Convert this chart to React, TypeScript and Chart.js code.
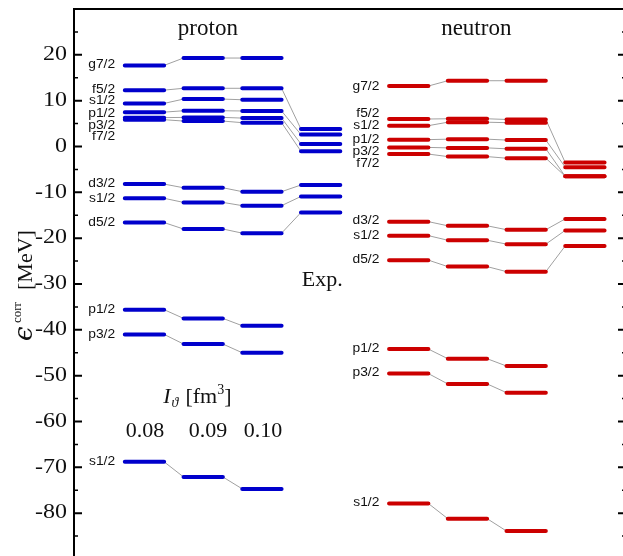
import React, { useEffect, useRef } from "react";
import { Chart, registerables } from "chart.js";

Chart.register(...registerables);

// ---------- data ----------
const stateNames = ["g7/2", "f5/2", "s1/2", "p1/2", "p3/2", "f7/2", "d3/2", "s1/2", "d5/2", "p1/2", "p3/2", "s1/2"];
const columnLabels = ["0.08", "0.09", "0.10"];

const proton008 = [17.7, 12.3, 9.4, 7.5, 6.3, 5.85, -8.2, -11.3, -16.6, -35.6, -41.0, -68.8];
const proton009 = [19.3, 12.7, 10.35, 7.8, 6.35, 5.55, -9.0, -12.2, -18.0, -37.5, -43.1, -72.1];
const proton010 = [19.3, 12.7, 10.2, 7.75, 6.2, 5.2, -9.85, -12.9, -18.9, -39.1, -45.0, -74.7];
const protonExp: (number | null)[] = [null, 3.8, null, 2.6, 0.55, -1.05, -8.4, -10.9, -14.4, null, null, null];
const protonLabelE = [17.8, 12.5, 9.9, 7.1, 4.65, 2.1, -8.1, -11.3, -16.6, -35.6, -41.0, -68.8];

const neutron008 = [13.2, 6.0, 4.55, 1.5, -0.2, -1.65, -16.4, -19.45, -24.8, -44.2, -49.55, -77.9];
const neutron009 = [14.35, 6.05, 5.3, 1.6, -0.3, -2.2, -17.3, -20.45, -26.2, -46.3, -51.8, -81.2];
const neutron010 = [14.35, 5.9, 5.2, 1.4, -0.5, -2.55, -18.15, -21.3, -27.3, -47.9, -53.7, -83.9];
const neutronExp: (number | null)[] = [null, -3.5, null, -4.5, -6.5, -6.5, -15.8, -18.3, -21.7, null, null, null];
const neutronLabelE = [13.1, 7.2, 4.45, 1.55, -1.1, -3.8, -16.2, -19.4, -24.6, -44.2, -49.4, -77.8];

const yTickValues = [20, 10, 0, -10, -20, -30, -40, -50, -60, -70, -80];

// ---------- layout constants ----------
const COLS_P = [1, 2, 3, 4];
const COLS_N = [5.5, 6.5, 7.5, 8.5];
const HW = 0.335;
const BLUE = "#0000cc";
const RED = "#cc0000";
const GREY = "#a0a0a0";
const SERIF = '"Liberation Serif", "Times New Roman", serif';
const SANS = '"Liberation Sans", Arial, sans-serif';

function buildDatasets(cols: number[], series: (number | null)[][], color: string) {
  const out: any[] = [];
  for (let i = 0; i < stateNames.length; i++) {
    const levels: any[] = [];
    const conns: any[] = [];
    for (let j = 0; j < cols.length; j++) {
      const v = series[j][i];
      if (v == null) continue;
      levels.push({ x: cols[j] - HW, y: v }, { x: cols[j] + HW, y: v }, { x: cols[j] + 0.5, y: null });
      if (j + 1 < cols.length) {
        const w = series[j + 1][i];
        if (w != null) {
          conns.push({ x: cols[j] + HW, y: v }, { x: cols[j + 1] - HW, y: w }, { x: cols[j] + 0.5, y: null });
        }
      }
    }
    out.push({
      data: conns,
      borderColor: GREY,
      borderWidth: 1,
      pointRadius: 0,
      spanGaps: false,
      order: 2,
    });
    out.push({
      data: levels,
      borderColor: color,
      borderWidth: 4,
      borderCapStyle: "round",
      pointRadius: 0,
      spanGaps: false,
      order: 1,
    });
  }
  return out;
}

function txt(ctx: CanvasRenderingContext2D, s: string, x: number, y: number, font: string, align: CanvasTextAlign, sx = 1, baseline: CanvasTextBaseline = "alphabetic", color = "#111") {
  ctx.save();
  ctx.translate(x, y);
  ctx.scale(sx, 1);
  ctx.font = font;
  ctx.textAlign = align;
  ctx.textBaseline = baseline;
  ctx.fillStyle = color;
  ctx.fillText(s, 0, 0);
  ctx.restore();
}

const decorPlugin = {
  id: "decor",
  afterDatasetsDraw(chart: any) {
    const ctx: CanvasRenderingContext2D = chart.ctx;
    const { left, right, top, bottom } = chart.chartArea;
    const xs = chart.scales.x;
    const ys = chart.scales.y;
    ctx.save();
    // frame
    ctx.strokeStyle = "#000";
    ctx.lineWidth = 2;
    ctx.beginPath();
    ctx.moveTo(left, bottom);
    ctx.lineTo(left, top);
    ctx.lineTo(right, top);
    ctx.lineTo(right, bottom);
    ctx.stroke();
    // ticks
    for (let v = -85; v <= 25; v += 5) {
      const y = ys.getPixelForValue(v);
      const major = v % 10 === 0;
      const len = major ? 8 : 4;
      ctx.lineWidth = major ? 2 : 1.5;
      ctx.beginPath();
      ctx.moveTo(left, y);
      ctx.lineTo(left + len, y);
      ctx.moveTo(right, y);
      ctx.lineTo(right - len, y);
      ctx.stroke();
    }
    // tick labels
    for (const v of yTickValues) {
      txt(ctx, String(v), left - 7, ys.getPixelForValue(v), `20px ${SERIF}`, "right", 1.2, "middle");
    }
    // state labels
    for (let i = 0; i < stateNames.length; i++) {
      txt(ctx, stateNames[i], xs.getPixelForValue(COLS_P[0] - 0.5), ys.getPixelForValue(protonLabelE[i]), `12px ${SANS}`, "right", 1.15, "middle");
      txt(ctx, stateNames[i], xs.getPixelForValue(COLS_N[0] - 0.5), ys.getPixelForValue(neutronLabelE[i]), `12px ${SANS}`, "right", 1.15, "middle");
    }
    // titles
    txt(ctx, "proton", xs.getPixelForValue(2.08), ys.getPixelForValue(24.3), `23px ${SERIF}`, "center");
    txt(ctx, "neutron", xs.getPixelForValue(6.65), ys.getPixelForValue(24.3), `23px ${SERIF}`, "center");
    txt(ctx, "Exp.", xs.getPixelForValue(3.68), ys.getPixelForValue(-30.4), `22px ${SERIF}`, "left");
    // I_theta [fm^3]
    {
      let x = xs.getPixelForValue(1.32);
      const y = ys.getPixelForValue(-55.9);
      ctx.font = `italic 22px ${SERIF}`;
      ctx.fillStyle = "#111";
      ctx.textAlign = "left";
      ctx.textBaseline = "alphabetic";
      ctx.fillText("I", x, y);
      x += ctx.measureText("I").width + 1;
      ctx.font = `italic 14px ${SERIF}`;
      ctx.fillText("\u03D1", x, y + 4);
      x += ctx.measureText("\u03D1").width + 7;
      ctx.font = `22px ${SERIF}`;
      ctx.fillText("[fm", x, y);
      x += ctx.measureText("[fm").width;
      ctx.font = `14px ${SERIF}`;
      ctx.fillText("3", x, y - 9);
      x += ctx.measureText("3").width;
      ctx.font = `22px ${SERIF}`;
      ctx.fillText("]", x, y);
    }
    const labX = [1.01, 2.08, 3.02];
    for (let j = 0; j < 3; j++) {
      txt(ctx, columnLabels[j], xs.getPixelForValue(labX[j]), ys.getPixelForValue(-63.3), `22px ${SERIF}`, "center");
    }
    // y title
    {
      const cx = 32;
      const cy = (top + bottom) / 2 + 1;
      ctx.save();
      ctx.translate(cx, cy);
      ctx.rotate(-Math.PI / 2);
      ctx.fillStyle = "#111";
      ctx.textAlign = "left";
      ctx.textBaseline = "alphabetic";
      ctx.font = `italic 26px "DejaVu Serif", ${SERIF}`;
      ctx.fillText("\u03F5", -56, 0);
      ctx.font = `13px ${SERIF}`;
      ctx.fillText("corr", -38, -11);
      ctx.font = `22px ${SERIF}`;
      ctx.fillText("[MeV]", -5, 0);
      ctx.restore();
    }
    ctx.restore();
  },
};

export default function App() {
  const ref = useRef<HTMLCanvasElement | null>(null);
  useEffect(() => {
    if (!ref.current) return;
    const datasets = [
      ...buildDatasets(COLS_P, [proton008, proton009, proton010, protonExp], BLUE),
      ...buildDatasets(COLS_N, [neutron008, neutron009, neutron010, neutronExp], RED),
    ];
    const chart = new Chart(ref.current, {
      type: "line",
      data: { datasets },
      options: {
        animation: false,
        responsive: false,
        devicePixelRatio: 1,
        layout: { padding: { left: 74, top: 9, right: 14, bottom: 11 } },
        plugins: { legend: { display: false }, tooltip: { enabled: false } },
        scales: {
          x: { type: "linear", min: -0.2, max: 9.2, display: false },
          y: { type: "linear", min: -90, max: 30, display: false },
        },
        elements: { line: { tension: 0 } },
      },
      plugins: [decorPlugin],
    } as any);
    return () => chart.destroy();
  }, []);
  return (
    <div style={{ position: "fixed", left: 0, top: 0, width: 623, height: 556, overflow: "hidden", background: "#fff" }}>
      <canvas ref={ref} width={640} height={570} style={{ display: "block", width: 640, height: 570 }} />
    </div>
  );
}
